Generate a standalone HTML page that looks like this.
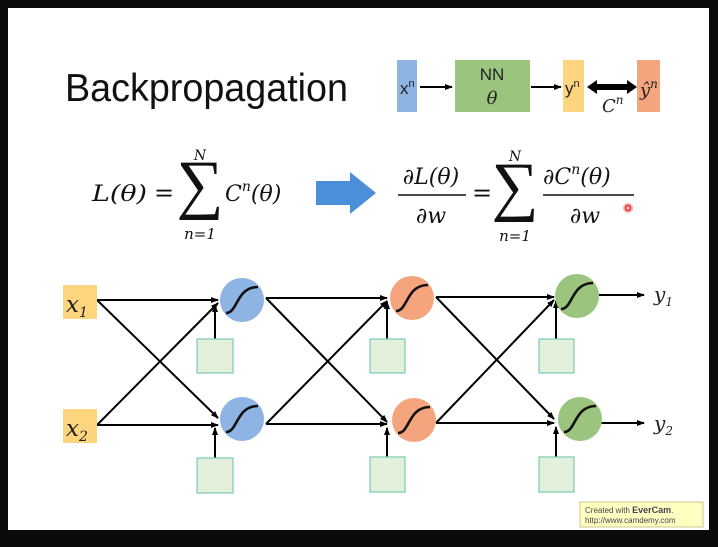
<!DOCTYPE html>
<html><head><meta charset="utf-8"><style>
html,body{margin:0;padding:0;background:#0a0a0a;}
svg{display:block}
.m{font-family:"DejaVu Serif","Liberation Serif",serif;font-style:italic;}
.s{font-family:"Liberation Sans",sans-serif;}
.sg{font-family:"Liberation Serif",serif;font-style:normal;}
</style></head><body>
<svg width="718" height="547" viewBox="0 0 718 547" xmlns="http://www.w3.org/2000/svg">
<defs>
<marker id="a" markerWidth="8" markerHeight="8" refX="7" refY="4" orient="auto" markerUnits="userSpaceOnUse"><path d="M0,1 L8,4 L0,7 Z" fill="#000"/></marker>
</defs>
<rect x="0" y="0" width="718" height="547" fill="#0a0a0a"/>
<rect x="8" y="8" width="701" height="522" fill="#fff"/>
<text x="65" y="101" class="s" font-size="39" fill="#111" textLength="283" lengthAdjust="spacingAndGlyphs">Backpropagation</text>
<!-- top diagram -->
<rect x="397" y="60" width="20" height="52" fill="#8eb4e3" />
<text x="400" y="94" class="s" font-size="17" fill="#222">x<tspan font-size="11" dy="-7">n</tspan></text>
<line x1="420" y1="87" x2="452" y2="87" stroke="#000" stroke-width="2" marker-end="url(#a)"/>
<rect x="455" y="60" width="75" height="52" fill="#9bc47e"/>
<text x="492" y="80" class="s" font-size="17" fill="#222" text-anchor="middle">NN</text>
<text x="492" y="104" class="m" font-size="18" fill="#222" text-anchor="middle">θ</text>
<line x1="531" y1="87" x2="561" y2="87" stroke="#000" stroke-width="2" marker-end="url(#a)"/>
<rect x="563" y="60" width="21" height="52" fill="#fdd57e"/>
<text x="565" y="94" class="s" font-size="17" fill="#222">y<tspan font-size="11" dy="-7">n</tspan></text>
<path d="M587,87 L597,80 L597,84 L627,84 L627,80 L637,87 L627,94 L627,90 L597,90 L597,94 Z" fill="#000"/>
<text x="602" y="112" class="m" font-size="18" fill="#222">C<tspan font-size="12" dy="-8">n</tspan></text>
<rect x="637" y="60" width="23" height="52" fill="#f5a57e"/>
<text x="640" y="96" class="m" font-size="18" fill="#222">ŷ<tspan font-size="12" dy="-8">n</tspan></text>
<!-- formula left -->
<g class="m" fill="#111">
<text x="92" y="201" font-size="22" textLength="55" lengthAdjust="spacingAndGlyphs">L(θ)</text>
<text x="154" y="201" font-size="24" font-style="normal">=</text>
<text x="200" y="206" font-size="66" class="sg" text-anchor="middle">∑</text>
<text x="200" y="160" font-size="14" text-anchor="middle">N</text>
<text x="200" y="239" font-size="15" text-anchor="middle">n=1</text>
<text x="225" y="201" font-size="22">C<tspan font-size="14" dy="-10">n</tspan><tspan font-size="22" dy="10">(θ)</tspan></text>
</g>
<path d="M316,181 L350,181 L350,172 L376,193 L350,214 L350,205 L316,205 Z" fill="#4a8fd8"/>
<!-- formula right -->
<g class="m" fill="#111">
<text x="431" y="184" font-size="22" text-anchor="middle">∂L(θ)</text>
<line x1="398" y1="195" x2="466" y2="195" stroke="#111" stroke-width="1.5"/>
<text x="431" y="223" font-size="22" text-anchor="middle">∂w</text>
<text x="472" y="201" font-size="24" font-style="normal">=</text>
<text x="515" y="208" font-size="66" class="sg" text-anchor="middle">∑</text>
<text x="515" y="161" font-size="14" text-anchor="middle">N</text>
<text x="515" y="241" font-size="15" text-anchor="middle">n=1</text>
<text x="543" y="184" font-size="22">∂C<tspan font-size="14" dy="-10">n</tspan><tspan font-size="22" dy="10">(θ)</tspan></text>
<line x1="543" y1="195" x2="634" y2="195" stroke="#111" stroke-width="1.5"/>
<text x="585" y="223" font-size="22" text-anchor="middle">∂w</text>
</g>
<circle cx="628" cy="208" r="5" fill="#f7b0b0"/><circle cx="628" cy="208" r="2.5" fill="none" stroke="#e02020" stroke-width="1.2"/>
<!-- network -->
<g stroke="#000" stroke-width="2" fill="none">
<line x1="97" y1="300" x2="218" y2="300" marker-end="url(#a)"/>
<line x1="97" y1="300" x2="218" y2="418" marker-end="url(#a)"/>
<line x1="97" y1="425" x2="218" y2="303" marker-end="url(#a)"/>
<line x1="97" y1="425" x2="218" y2="425" marker-end="url(#a)"/>
<line x1="266" y1="298" x2="387" y2="298" marker-end="url(#a)"/>
<line x1="266" y1="298" x2="387" y2="422" marker-end="url(#a)"/>
<line x1="266" y1="424" x2="387" y2="301" marker-end="url(#a)"/>
<line x1="266" y1="424" x2="387" y2="424" marker-end="url(#a)"/>
<line x1="436" y1="297" x2="554" y2="297" marker-end="url(#a)"/>
<line x1="436" y1="297" x2="554" y2="419" marker-end="url(#a)"/>
<line x1="436" y1="423" x2="554" y2="300" marker-end="url(#a)"/>
<line x1="436" y1="423" x2="554" y2="423" marker-end="url(#a)"/>
<line x1="599" y1="295" x2="644" y2="295" marker-end="url(#a)"/>
<line x1="601" y1="423" x2="644" y2="423" marker-end="url(#a)"/>
<line x1="215" y1="339" x2="215" y2="305" marker-end="url(#a)"/>
<line x1="215" y1="458" x2="215" y2="428" marker-end="url(#a)"/>
<line x1="387" y1="339" x2="387" y2="302" marker-end="url(#a)"/>
<line x1="387" y1="457" x2="387" y2="428" marker-end="url(#a)"/>
<line x1="556" y1="339" x2="556" y2="301" marker-end="url(#a)"/>
<line x1="556" y1="457" x2="556" y2="427" marker-end="url(#a)"/>
</g>
<rect x="63" y="285" width="34" height="34" fill="#fdd57e"/>
<text x="66" y="312" class="m" font-size="23" fill="#222">x<tspan font-size="14" dy="5">1</tspan></text>
<rect x="63" y="409" width="34" height="34" fill="#fdd57e"/>
<text x="66" y="436" class="m" font-size="23" fill="#222">x<tspan font-size="14" dy="5">2</tspan></text>
<g fill="#e3f0dc" stroke="#7ccbb0" stroke-width="1.2">
<rect x="197" y="339" width="36" height="34"/><rect x="197" y="458" width="36" height="35"/>
<rect x="370" y="339" width="35" height="34"/><rect x="370" y="457" width="35" height="35"/>
<rect x="539" y="339" width="35" height="34"/><rect x="539" y="457" width="35" height="35"/>
</g>
<g stroke="#111" stroke-width="2.6" fill="none">
<circle cx="242" cy="300" r="22" fill="#8eb4e3" stroke="none"/>
<circle cx="242" cy="419" r="22" fill="#8eb4e3" stroke="none"/>
<circle cx="412" cy="298" r="22" fill="#f5a57e" stroke="none"/>
<circle cx="414" cy="420" r="22" fill="#f5a57e" stroke="none"/>
<circle cx="577" cy="296" r="22" fill="#9bc47e" stroke="none"/>
<circle cx="580" cy="419" r="22" fill="#9bc47e" stroke="none"/>
<path d="M226,313 C238,313 236,287 258,287"/>
<path d="M226,432 C238,432 236,406 258,406"/>
<path d="M396,311 C408,311 406,285 428,285"/>
<path d="M398,433 C410,433 408,407 430,407"/>
<path d="M561,309 C573,309 571,283 593,283"/>
<path d="M564,432 C576,432 574,406 596,406"/>
</g>
<text x="654" y="301" class="m" font-size="20" fill="#222">y<tspan font-size="12" dy="5">1</tspan></text>
<text x="654" y="430" class="m" font-size="20" fill="#222">y<tspan font-size="12" dy="5">2</tspan></text>
<rect x="580" y="502" width="123" height="25" fill="#ffffc0" stroke="#c8c890"/>
<text x="585" y="513" class="s" font-size="8" fill="#445">Created with <tspan font-weight="bold" font-size="9">EverCam</tspan>.</text>
<text x="585" y="523" class="s" font-size="8" fill="#445">http://www.camdemy.com</text>
</svg>
</body></html>
